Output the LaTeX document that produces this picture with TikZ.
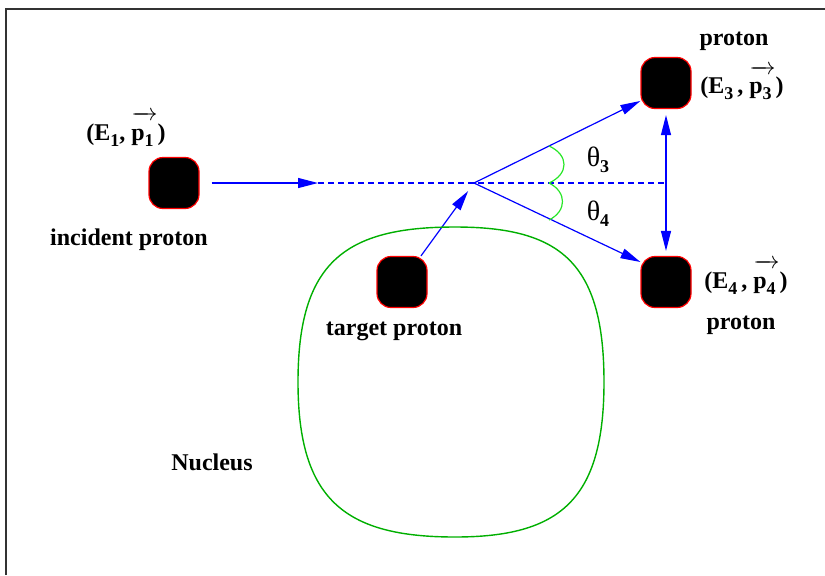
\documentclass[tikz,border=0pt]{standalone}
\usepackage{fontspec}
\setmainfont{Liberation Serif}
\usepackage{amsmath}
\usepackage{xcolor}
\usepackage{tikz}
\usetikzlibrary{positioning}
\usetikzlibrary{arrows.meta}

\definecolor{nucgreen}{RGB}{0,175,0}
\definecolor{arcgreen}{RGB}{40,230,40}
\newcommand{\lowsub}[1]{\raisebox{-0.55ex}{\small #1}}
\newcommand{\momvec}[1]{\ensuremath{\overrightarrow{\mbox{\rule{0pt}{1.75ex}p\lowsub{#1}}\,}}}

\begin{document}
\begin{tikzpicture}[x=0.5pt, y=-0.5pt,
		proton/.style={draw=red, fill=black, rounded corners=7pt, line width=0.6pt,
				minimum width=25pt, minimum height=25.5pt, inner sep=0pt},
		txt/.style={font=\fontsize{12}{14}\selectfont\bfseries, inner sep=1pt},
		track/.style={blue, line width=0.6pt, -{Triangle[length=10pt, width=5pt]}}]
		\useasboundingbox (0,0) rectangle (825,575);
		% frame
		\draw[line width=0.7pt, black!80] (6,575) -- (6,9) -- (825,9);

		% protons
		\node[proton] (inc) at (174,183) {};
		\node[proton] (tgt) at (402,282) {};
		\node[proton] (p3) at (666,83) {};
		\node[proton] (p4) at (666,282) {};

		% texts
		\node[txt] (incE) at (126,129) {(E\lowsub{1},\ \momvec{1})};
		\node[txt] (incT) at (129,240) {incident proton};
		\node[txt] (tgtT) at (394,331) {target proton};
		\node[txt] (p3T) at (734,41) {proton};
		\node[txt] (p3E) at (742,83) {(E\lowsub{3}\,,\ \momvec{3})};
		\node[txt] (p4E) at (746,277) {(E\lowsub{4}\,,\ \momvec{4})};
		\node[txt] (p4T) at (741,325) {proton};
		\node[txt] (nuc) at (212,462) {Nucleus};
		\node[txt] (th3) at (598,160) {{\mdseries\fontsize{14}{16}\selectfont θ}\lowsub{3}};
		\node[txt] (th4) at (598,214) {{\mdseries\fontsize{14}{16}\selectfont θ}\lowsub{4}};

		% beam axis
		\coordinate (mid) at (318,183);
		\coordinate (v) at (474,183);
		\coordinate (axend) at (p3 |- v);
		\draw[track, shorten <=6pt] (inc) -- (mid);
		\draw[blue, line width=0.6pt, dash pattern=on 3pt off 2pt] (mid) -- (axend);

		% collision
		\draw[track, shorten >=5pt] (tgt) -- (v);
		\draw[track] (v) -- (p3.-145);
		\draw[track] (v) -- (p4.142);
		\draw[blue, line width=0.6pt, {Triangle[length=10pt, width=5pt]}-{Triangle[length=10pt, width=5pt]},
				shorten <=3pt, shorten >=2.5pt] (p3) -- (p4);

		% angles
		\draw[arcgreen, line width=0.6pt] (549,146) .. controls (569,155) and (569,174) .. (549,183);
		\draw[arcgreen, line width=0.6pt] (549,183) .. controls (567,192) and (567,211) .. (549,220);

		% nucleus
		\draw[nucgreen, line width=0.7pt] (455,227) .. controls (560,227) and (604,262) .. (604,382)
				.. controls (604,500) and (560,537) .. (455,537)
				.. controls (345,537) and (298,500) .. (298,382)
				.. controls (298,262) and (345,227) .. (455,227) -- cycle;
	\end{tikzpicture}
\end{document}
